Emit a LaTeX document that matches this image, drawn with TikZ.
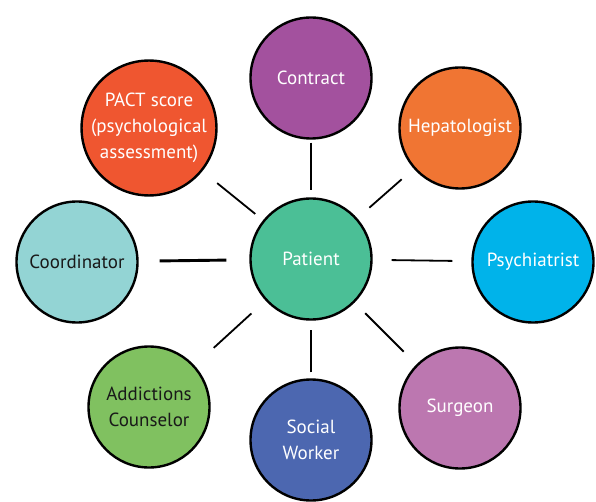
\documentclass[tikz,border=0pt]{standalone}
\usepackage{fontspec}
\setmainfont{PT Sans}
\definecolor{patgreen}{HTML}{4BBF96}
\definecolor{conpurple}{HTML}{A3519E}
\definecolor{heporange}{HTML}{F07533}
\definecolor{psyblue}{HTML}{00B3EA}
\definecolor{surpink}{HTML}{BC77B0}
\definecolor{socblue}{HTML}{4C67B0}
\definecolor{addgreen}{HTML}{80C160}
\definecolor{cooteal}{HTML}{93D4D4}
\definecolor{pacred}{HTML}{EF5630}

\begin{document}
\begin{tikzpicture}[x=1pt, y=-1pt,
    role/.style={circle, draw=black, line width=2.4pt, minimum size=121pt,
                 inner sep=0pt, align=center, text=white,
                 font=\fontsize{19}{26}\selectfont},
    link/.style={line width=1.8pt},
    heavy link/.style={line width=2.9pt}]
    \useasboundingbox (0,0) rectangle (596,502);
    % the team round the patient
    \node [role, fill=patgreen]   (pat) at (311,259) {Patient};
    \node [role, fill=conpurple]  (con) at (311,78)  {Contract};
    \node [role, fill=heporange]  (hep) at (460,128) {Hepatologist};
    \node [role, fill=psyblue]    (psy) at (533,262) {Psychiatrist};
    \node [role, fill=surpink]    (sur) at (460,408) {Surgeon};
    \node [role, fill=socblue]    (soc) at (311,440) {Social\\Worker};
    \node [role, fill=addgreen, text=black!90] (add) at (149,407) {Addictions\\Counselor};
    \node [role, fill=cooteal, text=black!90]  (coo) at (77,262)  {Coordinator};
    \node [role, fill=pacred]     (pac) at (149,128) {PACT score\\(psychological\\assessment)};
    % links, not touching the circles
    \draw [heavy link, shorten <=3pt,  shorten >=7pt]  (con) -- (pat);
    \draw [link,       shorten <=16pt, shorten >=16pt] (hep) -- (pat);
    \draw [link,       shorten <=19pt, shorten >=19pt] (psy) -- (pat);
    \draw [link,       shorten <=18pt, shorten >=15pt] (sur) -- (pat);
    \draw [heavy link, shorten <=6pt,  shorten >=9pt]  (soc) -- (pat);
    \draw [link,       shorten <=26pt, shorten >=19pt] (add) -- (pat);
    \draw [heavy link, shorten <=21pt, shorten >=23pt] (coo) -- (pat);
    \draw [link,       shorten <=19pt, shorten >=10pt] (pac) -- (pat);
\end{tikzpicture}
\end{document}
